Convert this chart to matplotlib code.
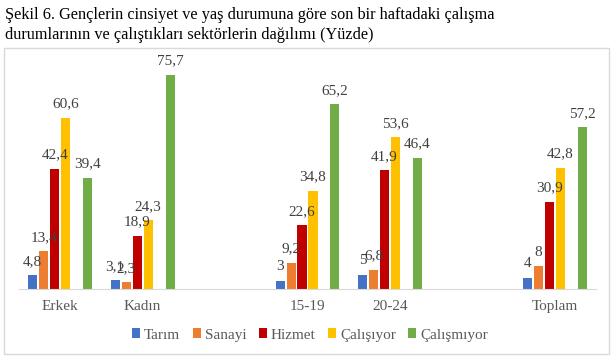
import numpy as np
import matplotlib.pyplot as plt
from matplotlib.patches import Rectangle

categories = ['Erkek', 'Kadın', '', '15-19', '20-24', '', 'Toplam']
series = ['Tarım', 'Sanayi', 'Hizmet', 'Çalışıyor', 'Çalışmıyor']
tarim = [4.8, 3.1, None, 3, 5, None, 4]
sanayi = [13.4, 2.3, None, 9.2, 6.8, None, 8]
hizmet = [42.4, 18.9, None, 22.6, 41.9, None, 30.9]
calisiyor = [60.6, 24.3, None, 34.8, 53.6, None, 42.8]
calismiyor = [39.4, 75.7, None, 65.2, 46.4, None, 57.2]
colors = ['#4472C4', '#ED7D31', '#C00000', '#FFC000', '#70AD47']

plt.rcParams['font.family'] = ['Liberation Serif', 'DejaVu Serif']

W, H = 615, 359
fig = plt.figure(figsize=(W / 100, H / 100), dpi=100)

# chart border
fig.patches.append(Rectangle((4 / W, (H - 354) / H), 605 / W, 306 / H,
                             transform=fig.transFigure, fill=False,
                             edgecolor='#D9D9D9', linewidth=1))

fig.text(5 / W, 1 - 15 / H, 'Şekil 6. Gençlerin cinsiyet ve yaş durumuna göre son bir haftadaki çalışma',
         fontsize=11.7, va='center', ha='left', color='black')
fig.text(5 / W, 1 - 35 / H, 'durumlarının ve çalıştıkları sektörlerin dağılımı (Yüzde)',
         fontsize=11.7, va='center', ha='left', color='black')

ax = fig.add_axes([19 / W, (H - 289) / H, 577 / W, 0.6306])

x = np.arange(len(categories))
slot = 0.133
width = 0.11
offsets = [-2.5, -1.5, -0.5, 0.5, 2.5]  # blank slot at +1.5
data = [tarim, sanayi, hizmet, calisiyor, calismiyor]

for vals, off, col, name in zip(data, offsets, colors, series):
    xs = [xi + off * slot for xi, v in zip(x, vals) if v is not None]
    vs = [v for v in vals if v is not None]
    ax.bar(xs, vs, width=width, color=col, label=name)
    for xi, v in zip(xs, vs):
        txt = f'{v:g}'.replace('.', ',')
        ax.text(xi, v + 2.6, txt, ha='center', va='bottom', fontsize=11, color='#404040')

ax.set_xlim(-0.5, len(categories) - 0.5)
ax.set_ylim(0, 80)
ax.set_xticks(x)
ax.set_xticklabels(categories, fontsize=11, color='#595959')
ax.tick_params(axis='x', length=0, pad=8)
ax.set_yticks([])
for s in ['top', 'right', 'left']:
    ax.spines[s].set_visible(False)
ax.spines['bottom'].set_color('#D9D9D9')
ax.patch.set_alpha(0)

fig.legend(loc='center', bbox_to_anchor=(310 / W, (H - 335) / H), ncol=5, frameon=False,
           fontsize=11, handlelength=0.55, handleheight=0.55, handletextpad=0.25,
           columnspacing=0.8, labelcolor='#595959')

fig.savefig('out.png', dpi=100)
